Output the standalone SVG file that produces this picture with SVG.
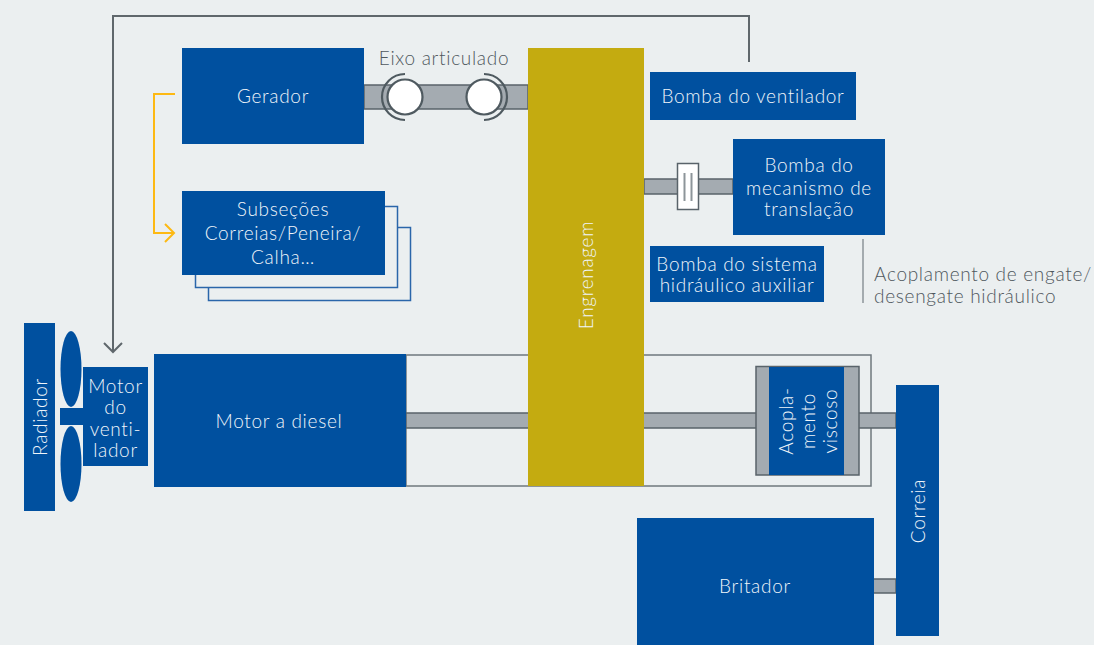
<svg xmlns="http://www.w3.org/2000/svg" width="1094" height="645" viewBox="0 0 1094 645">
<style>
text{font-family:Lato,"Noto Sans","Liberation Sans",sans-serif;font-size:19px;font-weight:300;letter-spacing:.7px}
.b{fill:#00509f}
.t{fill:#f0f5fa;text-anchor:middle}
.g{fill:#4f585e}
.s{fill:#a4abb1;stroke:#59636a;stroke-width:1.5}
.o{fill:none;stroke-width:1.5}
.l{fill:none;stroke-width:2}
</style>
<rect width="1094" height="645" fill="#ebeff0"/>
<g id="connectors">
<path class="l" d="M749 62V16H113V352M104 343L113 352L122 343" stroke="#5f676c"/>
<path class="l" d="M175 94H154V233H174M165 224L174 233L165 242" stroke="#fdb913"/>
<rect x="406" y="355" width="465" height="131" class="o" stroke="#6f787d"/>
<rect x="364" y="85" width="164" height="24" class="s"/>
<rect x="644" y="179" width="89" height="15" class="s"/>
<rect x="406" y="413" width="490" height="15" class="s"/>
<rect x="873" y="579" width="23" height="14" class="s"/>
<path d="M863 239V303" stroke="#8d959a" stroke-width="1.5"/>
</g>
<g id="joint">
<circle cx="405" cy="97" r="17.500" fill="#fff" stroke="#4f5a60" stroke-width="2.200"/>
<circle cx="484" cy="97" r="17.500" fill="#fff" stroke="#4f5a60" stroke-width="2.200"/>
<path d="M405 74A23 23 0 0 0 405 120M484 74A23 23 0 0 1 484 120" fill="none" stroke="#4f5a60" stroke-width="2.200"/>
<text x="444" y="65" class="g" text-anchor="middle">Eixo articulado</text>
</g>
<g id="clutch">
<rect x="677.500" y="163.500" width="21" height="46" fill="#fff" stroke="#59636a" stroke-width="1.500"/>
<path d="M684.500 173V201M691.500 173V201" stroke="#8d959a" stroke-width="2"/>
</g>
<g id="gerador"><rect class="b" x="182" y="48" width="182" height="96"/><text class="t" x="273" y="103">Gerador</text></g>
<g id="subsecoes">
<rect x="208.500" y="227.500" width="202" height="73" class="o" stroke="#2a66aa"/>
<rect x="195.500" y="206.500" width="202" height="81" fill="#ebeff0" stroke="#2a66aa" stroke-width="1.500"/>
<rect class="b" x="182" y="191" width="203" height="84"/>
<text class="t" x="283" y="216">Subseções</text>
<text class="t" x="283" y="240">Correias/Peneira/</text>
<text class="t" x="283" y="264">Calha…</text>
</g>
<g id="engrenagem"><rect x="528" y="48" width="116" height="438" fill="#c4ab10"/><text class="t" transform="translate(593 275) rotate(-90)">Engrenagem</text></g>
<g id="bomba-ventilador"><rect class="b" x="650" y="72" width="206" height="48"/><text class="t" x="753" y="103">Bomba do ventilador</text></g>
<g id="bomba-translacao"><rect class="b" x="733" y="139" width="152" height="96"/>
<text class="t" x="809" y="172">Bomba do</text><text class="t" x="809" y="195">mecanismo de</text><text class="t" x="809" y="216">translação</text></g>
<g id="bomba-auxiliar"><rect class="b" x="650" y="246" width="174" height="56"/>
<text class="t" x="737" y="271">Bomba do sistema</text><text class="t" x="737" y="292">hidráulico auxiliar</text></g>
<g id="acoplamento-hidraulico"><text class="g" x="874" y="281">Acoplamento de engate/</text><text class="g" x="874" y="303">desengate hidráulico</text></g>
<g id="radiador"><rect class="b" x="24" y="323" width="31" height="188"/><text class="t" transform="translate(47 417) rotate(-90)">Radiador</text></g>
<g id="ventilador">
<ellipse class="b" cx="71" cy="369" rx="10.500" ry="38"/>
<ellipse class="b" cx="71" cy="464" rx="10.500" ry="38"/>
<rect class="b" x="60" y="408" width="24" height="17"/>
</g>
<g id="motor-ventilador"><rect class="b" x="83" y="367" width="65" height="99"/>
<text class="t" x="115.500" y="393">Motor</text><text class="t" x="115.500" y="414">do</text><text class="t" x="115.500" y="436">venti-</text><text class="t" x="115.500" y="457">lador</text></g>
<g id="motor-diesel"><rect class="b" x="154" y="354" width="252" height="133"/><text class="t" x="279" y="428">Motor a diesel</text></g>
<g id="acoplamento-viscoso">
<rect x="756" y="366.500" width="103" height="108.500" class="s"/>
<rect class="b" x="769" y="367" width="75" height="108"/>
<text class="t" transform="translate(793 421) rotate(-90)">Acopla-</text>
<text class="t" transform="translate(815 421) rotate(-90)">mento</text>
<text class="t" transform="translate(837 421) rotate(-90)">viscoso</text>
</g>
<g id="correia"><rect class="b" x="896" y="385" width="43" height="251"/><text class="t" transform="translate(925 511) rotate(-90)">Correia</text></g>
<g id="britador"><rect class="b" x="637" y="518" width="237" height="127"/><text class="t" x="755" y="593">Britador</text></g>
</svg>
